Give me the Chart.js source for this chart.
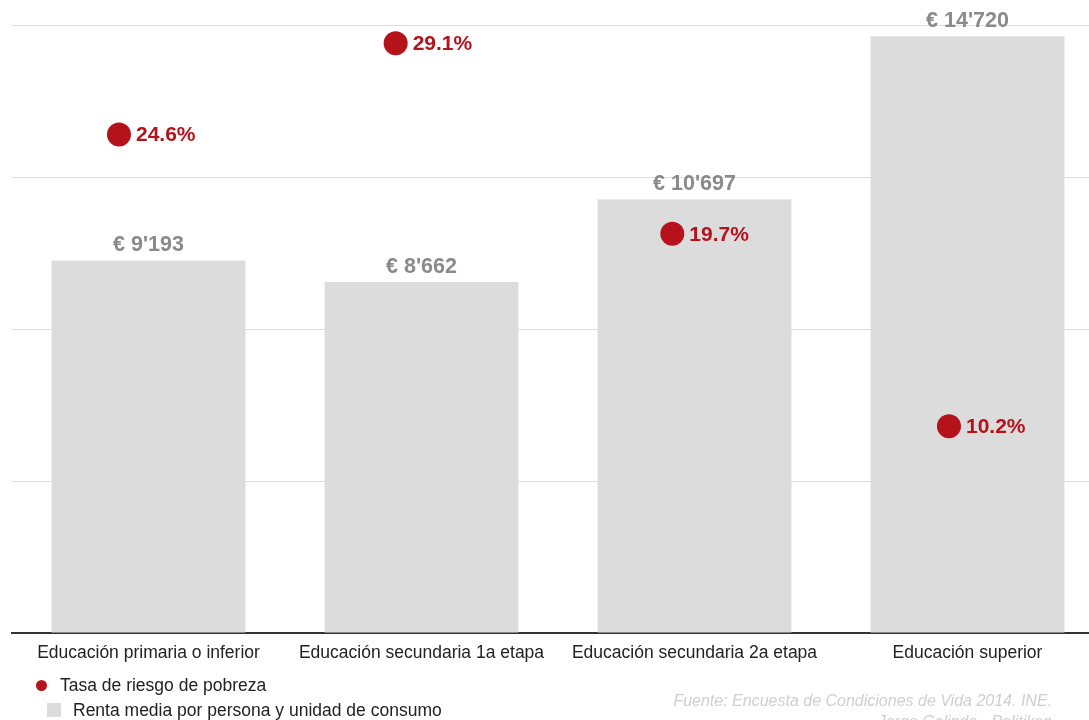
<!DOCTYPE html>
<html>
<head>
<meta charset="utf-8">
<script src="https://cdn.jsdelivr.net/npm/chart.js@4.4.1/dist/chart.umd.min.js"></script>
<style>
  html, body { margin: 0; padding: 0; background: #fff; overflow: hidden; width: 1089px; height: 720px; }
  #c { position: absolute; left: 0; top: 0; }
  .leg { position: absolute; font-family: "Liberation Sans", Arial, sans-serif; font-size: 17.5px; color: #222; white-space: nowrap; line-height: 1; }
  .foot { position: absolute; right: 37px; font-family: "Liberation Sans", Arial, sans-serif; font-style: italic; font-size: 16px; color: #cfcfcf; white-space: nowrap; text-align: right; line-height: 1; }
</style>
</head>
<body>
<canvas id="c" width="1104" height="720" style="width:1104px;height:720px;"></canvas>
<div class="leg" style="left:36px;top:680px;width:11px;height:11px;border-radius:50%;background:#b5121b;"></div>
<div class="leg" style="left:60px;top:677px;">Tasa de riesgo de pobreza</div>
<div class="leg" style="left:47px;top:703px;width:14px;height:14px;background:#dcdcdc;"></div>
<div class="leg" style="left:73px;top:702px;">Renta media por persona y unidad de consumo</div>
<div class="foot" style="top:693px;">Fuente: Encuesta de Condiciones de Vida 2014. INE.</div>
<div class="foot" style="top:714px;">Jorge Galindo - Politikon</div>
<script>
const categories = [
  "Educación primaria o inferior",
  "Educación secundaria 1a etapa",
  "Educación secundaria 2a etapa",
  "Educación superior"
];
const renta = [9193, 8662, 10697, 14720];
const pobreza = [24.6, 29.1, 19.7, 10.2];
const seriesNames = ["Renta media por persona y unidad de consumo", "Tasa de riesgo de pobreza"];
const rentaAxis = { min: 0, max: 15000, step: 3750 };
const pobrezaAxis = { min: 0, max: 30 };

const RED = '#b5121b';
const GREY_BAR = '#dcdcdc';
const LABEL_GREY = '#8a8a8a';
const FONT = '"Liberation Sans", Arial, sans-serif';

function fmtEuro(v) {
  return '€ ' + String(v).replace(/\B(?=(\d{3})+(?!\d))/g, "'");
}

// dots sit slightly left of each bar centre, on a marginally wider spacing
const DOT_SCALE = 1.0134;
const DOT_OFFSET = -31.5;

const shiftPlugin = {
  id: 'shiftDots',
  afterDatasetsUpdate(chart) {
    const meta = chart.getDatasetMeta(1);
    meta.data.forEach(p => { p.x = p.x * DOT_SCALE + DOT_OFFSET; });
  }
};

const labelPlugin = {
  id: 'labels',
  afterDatasetsDraw(chart) {
    const ctx = chart.ctx;
    ctx.save();
    const bars = chart.getDatasetMeta(0).data;
    ctx.font = 'bold 21.5px ' + FONT;
    ctx.fillStyle = LABEL_GREY;
    ctx.textAlign = 'center';
    ctx.textBaseline = 'middle';
    bars.forEach((b, i) => {
      ctx.fillText(fmtEuro(renta[i]), b.x, b.y - 15);
    });
    const pts = chart.getDatasetMeta(1).data;
    ctx.font = 'bold 21px ' + FONT;
    ctx.fillStyle = RED;
    ctx.textAlign = 'left';
    pts.forEach((p, i) => {
      ctx.fillText(pobreza[i].toFixed(1) + '%', p.x + 17, p.y + 1);
    });
    ctx.restore();
  }
};

new Chart(document.getElementById('c'), {
  data: {
    labels: categories,
    datasets: [
      {
        type: 'bar',
        label: seriesNames[0],
        data: renta,
        backgroundColor: GREY_BAR,
        borderWidth: 0,
        categoryPercentage: 1.0,
        barPercentage: 0.71,
        yAxisID: 'y',
        order: 2
      },
      {
        type: 'line',
        label: seriesNames[1],
        data: pobreza,
        showLine: false,
        pointRadius: 12,
        pointHoverRadius: 12,
        pointBackgroundColor: RED,
        pointBorderColor: RED,
        pointBorderWidth: 0,
        yAxisID: 'y2',
        order: 1
      }
    ]
  },
  options: {
    responsive: false,
    maintainAspectRatio: false,
    animation: false,
    devicePixelRatio: 1,
    layout: { autoPadding: false, padding: { left: 12, right: 0, top: 25, bottom: 47 } },
    plugins: { legend: { display: false }, tooltip: { enabled: false } },
    scales: {
      x: {
        grid: { display: false, drawTicks: false },
        border: { display: true, color: '#333', width: 2 },
        ticks: { color: '#222', font: { family: FONT, size: 17.5 }, padding: 10, maxRotation: 0, autoSkip: false },
        afterFit(s) { s.height = 40; }
      },
      y: {
        position: 'left',
        min: rentaAxis.min, max: rentaAxis.max,
        ticks: { display: false, stepSize: rentaAxis.step },
        grid: { color: '#dedede', lineWidth: 1, drawTicks: false },
        border: { display: false },
        afterFit(s) { s.width = 0; }
      },
      y2: {
        display: false,
        min: pobrezaAxis.min, max: pobrezaAxis.max
      }
    }
  },
  plugins: [shiftPlugin, labelPlugin]
});
</script>
</body>
</html>
